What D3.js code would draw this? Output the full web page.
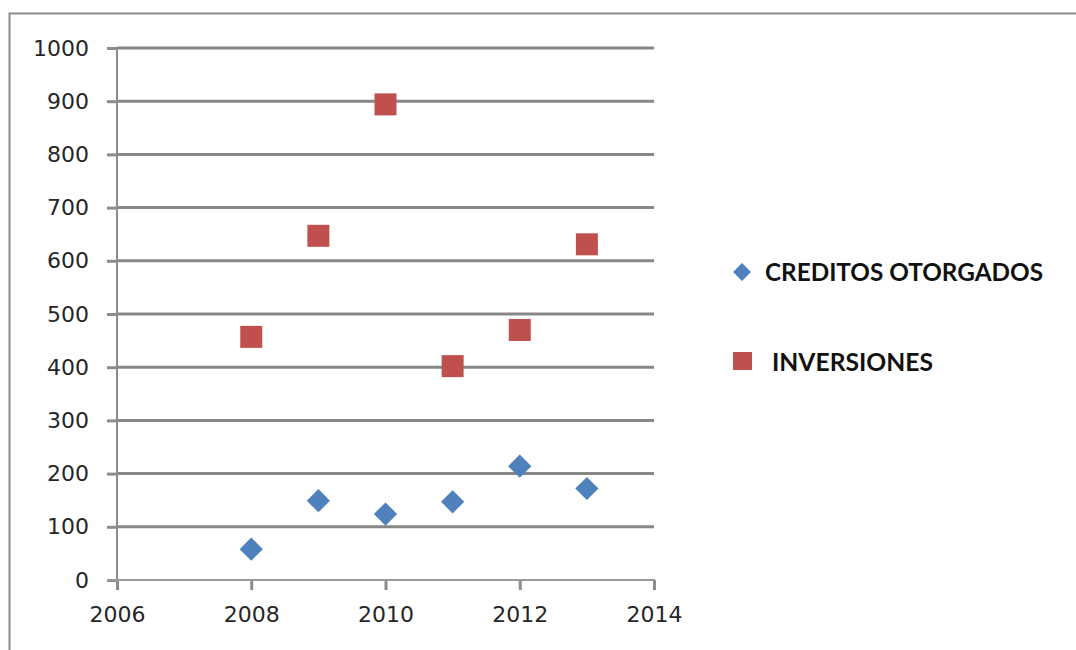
<!DOCTYPE html>
<html>
<head>
<meta charset="utf-8">
<script src="https://cdn.jsdelivr.net/npm/d3@7"></script>
<style>
  body { margin: 0; background: #fff; }
  .tick text { font-family: 'DejaVu Sans', sans-serif; font-size: 22px; fill: #262626; }
  .legend text { font-family: Lato, sans-serif; font-weight: bold; font-size: 24px; fill: #111; }
</style>
</head>
<body>
<script>
/* global d3 */
var years = [2008, 2009, 2010, 2011, 2012, 2013]
var creditos = [58, 149, 124, 147, 214, 172]
var inversiones = [457, 647, 894, 402, 470, 631]
var seriesNames = ['CREDITOS OTORGADOS', 'INVERSIONES']
var xTicks = [2006, 2008, 2010, 2012, 2014]
var yTicks = [0, 100, 200, 300, 400, 500, 600, 700, 800, 900, 1000]

var W = 1076
var H = 650
var margin = {top: 48, left: 117}
var width = 654 - margin.left
var height = 580 - margin.top

var blue = '#4f81bd'
var red = '#c0504d'

var svg = d3.select('body').append('svg')
  .attr('width', W)
  .attr('height', H)

// outer frame (only left and top edges show)
svg.append('path')
  .attr('d', 'M9.5,' + H + 'V13.5H' + W)
  .attr('fill', 'none')
  .attr('stroke', '#8c8c8c')
  .attr('stroke-width', 2)

var g = svg.append('g')
  .attr('transform', 'translate(' + margin.left + ',' + margin.top + ')')

var x = d3.scaleLinear()
  .domain([2006, 2014])
  .range([0, width])

var y = d3.scaleLinear()
  .domain([0, 1000])
  .range([height, 0])

// gridlines
g.append('g')
  .selectAll('line')
  .data(yTicks.filter(function (d) { return d > 0 }))
  .enter().append('line')
  .attr('x1', 0)
  .attr('x2', width)
  .attr('y1', function (d) { return y(d) })
  .attr('y2', function (d) { return y(d) })
  .attr('stroke', '#878787')
  .attr('stroke-width', 3)

var yAxis = d3.axisLeft(y)
  .tickValues(yTicks)
  .tickSize(10)
  .tickPadding(18)
  .tickFormat(d3.format('d'))

var xAxis = d3.axisBottom(x)
  .tickValues(xTicks)
  .tickSize(10)
  .tickPadding(16)
  .tickFormat(d3.format('d'))

var ya = g.append('g')
  .attr('class', 'y axis')
  .call(yAxis)
ya.select('.domain').remove()
ya.selectAll('.tick line').attr('stroke', '#8c8c8c').attr('stroke-width', 3)
ya.append('line')
  .attr('x1', 0).attr('x2', 0)
  .attr('y1', 0).attr('y2', height + 4)
  .attr('stroke', '#8c8c8c')
  .attr('stroke-width', 2)

var xa = g.append('g')
  .attr('class', 'x axis')
  .attr('transform', 'translate(0,' + height + ')')
  .call(xAxis)
xa.select('.domain').remove()
xa.append('line')
  .attr('x1', -10).attr('x2', width + 1)
  .attr('stroke', '#9a9a9a')
  .attr('stroke-width', 2)
xa.selectAll('.tick line').attr('stroke', '#8c8c8c').attr('stroke-width', 3)

var diamond = d3.symbol().type(d3.symbolSquare).size(270)

// CREDITOS OTORGADOS
g.selectAll('.cred')
  .data(creditos)
  .enter().append('path')
  .attr('class', 'cred')
  .attr('d', diamond)
  .attr('transform', function (d, i) {
    return 'translate(' + x(years[i]) + ',' + y(d) + ') rotate(45)'
  })
  .attr('fill', blue)

// INVERSIONES
g.selectAll('.inv')
  .data(inversiones)
  .enter().append('rect')
  .attr('class', 'inv')
  .attr('x', function (d, i) { return x(years[i]) - 11 })
  .attr('y', function (d) { return y(d) - 11 })
  .attr('width', 22)
  .attr('height', 22)
  .attr('fill', red)

// legend
var legend = svg.append('g').attr('class', 'legend')

legend.append('path')
  .attr('d', d3.symbol().type(d3.symbolSquare).size(160))
  .attr('transform', 'translate(742,272) rotate(45)')
  .attr('fill', blue)

legend.append('text')
  .attr('x', 765)
  .attr('y', 273)
  .attr('dy', '.35em')
  .attr('textLength', 278)
  .attr('lengthAdjust', 'spacingAndGlyphs')
  .text(seriesNames[0])

legend.append('rect')
  .attr('x', 733)
  .attr('y', 352)
  .attr('width', 19)
  .attr('height', 18)
  .attr('fill', red)

legend.append('text')
  .attr('x', 772)
  .attr('y', 363)
  .attr('dy', '.35em')
  .attr('textLength', 161)
  .attr('lengthAdjust', 'spacingAndGlyphs')
  .text(seriesNames[1])
</script>
</body>
</html>
